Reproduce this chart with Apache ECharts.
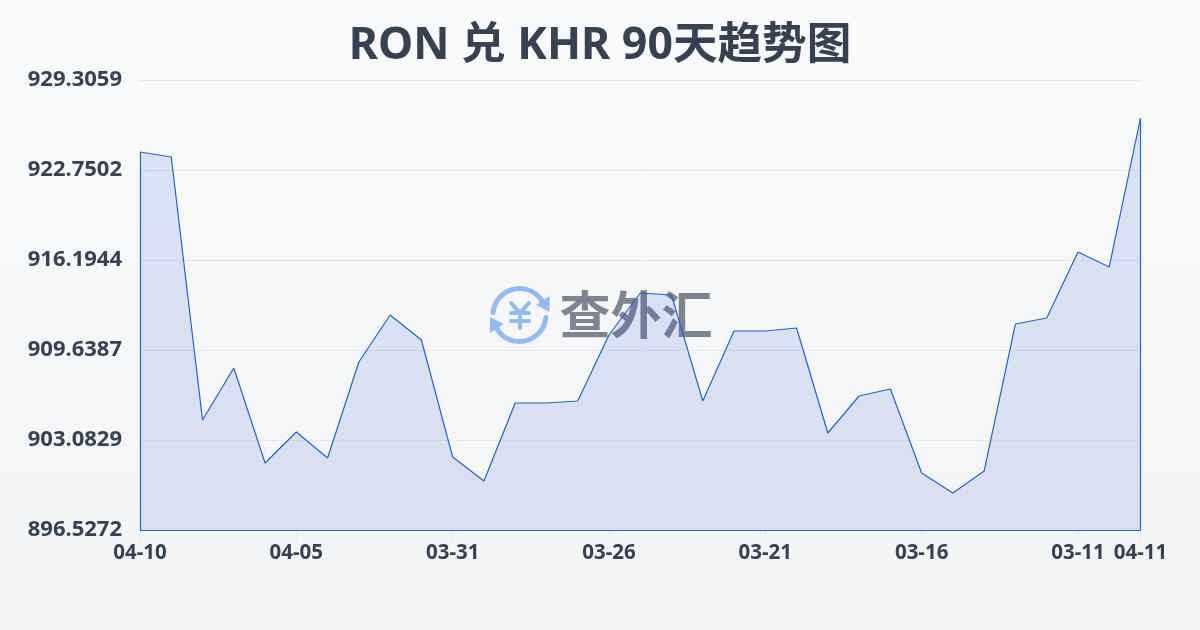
<!DOCTYPE html>
<html>
<head>
<meta charset="utf-8">
<title>RON 兑 KHR 90天趋势图</title>
<style>
    html, body { margin: 0; padding: 0; width: 1200px; height: 630px; overflow: hidden; }
    #chart { width: 1200px; height: 630px; }
</style>
<script src="https://cdn.jsdelivr.net/npm/echarts@6/dist/echarts.min.js"></script>
</head>
<body>
<div id="chart"></div>
<script>
var titleText = 'RON 兑 KHR 90天趋势图';
var watermarkText = '查外汇';

var categories = [
    '04-10', '04-09', '04-08', '04-07', '04-06', '04-05', '04-04', '04-03', '04-02', '04-01', '03-31',
    '03-30', '03-29', '03-28', '03-27', '03-26', '03-25', '03-24', '03-23', '03-22', '03-21',
    '03-20', '03-19', '03-18', '03-17', '03-16', '03-15', '03-14', '03-13', '03-12', '03-11',
    '03-10', '04-11'
];
var rates = [
    924.061, 923.697, 904.540, 908.328, 901.408, 903.666, 901.772, 908.765, 912.188, 910.367, 901.845,
    900.097, 905.778, 905.778, 905.924, 910.732, 913.791, 913.645, 905.924, 911.023, 911.023,
    911.241, 903.593, 906.288, 906.798, 900.679, 899.223, 900.825, 911.533, 911.970, 916.777,
    915.685, 926.538
];
var yMin = 896.5272;
var yMax = 929.3059;
var tickStep = 5;

var lineColor = '#2563c9';
var textColor = '#374151';
var gridColor = '#e5e7eb';
var logoColor = '#93b9f6';
var fontName = '"Noto Sans", "Noto Sans CJK SC", sans-serif';

function showTick(index) {
    return index % tickStep === 0 || index === categories.length - 1;
}

var last = categories.length - 1;

var chart = echarts.init(document.getElementById('chart'));

var option = {
    animation: false,
    backgroundColor: {
        type: 'linear', x: 0, y: 0, x2: 0, y2: 1,
        colorStops: [
            {offset: 0, color: '#f9fafc'},
            {offset: 1, color: '#f3f4f6'}
        ]
    },
    title: {
        text: titleText,
        left: 'center',
        top: 19,
        textStyle: {
            color: textColor,
            fontSize: 44.6,
            fontWeight: 'bold',
            fontFamily: fontName
        }
    },
    grid: {
        left: 140,
        right: 59.5,
        top: 80,
        bottom: 100
    },
    xAxis: {
        type: 'category',
        boundaryGap: false,
        data: categories,
        axisLine: {show: false},
        axisTick: {
            length: 10,
            interval: function (index) { return showTick(index); },
            lineStyle: {color: gridColor}
        },
        axisLabel: {
            interval: function (index) { return showTick(index); },
            color: textColor,
            fontSize: 20.5,
            fontWeight: 'bold',
            margin: 13,
            fontFamily: fontName
        }
    },
    yAxis: {
        type: 'value',
        min: yMin,
        max: yMax,
        interval: (yMax - yMin) / 5,
        axisLine: {show: false},
        axisTick: {show: false},
        splitLine: {lineStyle: {color: gridColor}},
        axisLabel: {
            color: textColor,
            fontSize: 22,
            fontWeight: 'bold',
            margin: 18,
            padding: [0, 0, 2, 0],
            fontFamily: fontName,
            formatter: function (value) { return value.toFixed(4); }
        }
    },
    graphic: [
        {
            type: 'group',
            silent: true,
            z: -1,
            children: [
                {type: 'arc', shape: {cx: 519.5, cy: 315, r: 26.5, startAngle: Math.PI * 1.03, endAngle: Math.PI * 1.86}, style: {stroke: logoColor, lineWidth: 5, fill: null, lineCap: 'round'}},
                {type: 'arc', shape: {cx: 519.5, cy: 315, r: 26.5, startAngle: Math.PI * 0.03, endAngle: Math.PI * 0.86}, style: {stroke: logoColor, lineWidth: 5, fill: null, lineCap: 'round'}},
                {type: 'polygon', shape: {points: [[549.5, 296], [549.5, 312], [536, 305]]}, style: {fill: logoColor}},
                {type: 'polygon', shape: {points: [[490, 317], [503.5, 324], [490, 333]]}, style: {fill: logoColor}},
                {type: 'polyline', shape: {points: [[511, 303], [520, 313], [529, 303]]}, style: {stroke: logoColor, lineWidth: 4, fill: null, lineCap: 'round'}},
                {type: 'line', shape: {x1: 511, y1: 313, x2: 529, y2: 313}, style: {stroke: logoColor, lineWidth: 4, lineCap: 'round'}},
                {type: 'line', shape: {x1: 511, y1: 321, x2: 529, y2: 321}, style: {stroke: logoColor, lineWidth: 4, lineCap: 'round'}},
                {type: 'line', shape: {x1: 520, y1: 313, x2: 520, y2: 328}, style: {stroke: logoColor, lineWidth: 4, lineCap: 'round'}},
                {
                    type: 'text',
                    x: 636,
                    y: 315,
                    style: {
                        text: watermarkText,
                        fill: '#7e8490',
                        font: 'bold 51px "Noto Sans CJK SC", sans-serif',
                        textAlign: 'center',
                        textVerticalAlign: 'middle'
                    }
                }
            ]
        }
    ],
    series: [
        {
            type: 'line',
            data: rates,
            symbol: 'none',
            smooth: false,
            lineStyle: {color: lineColor, width: 1.2},
            areaStyle: {
                origin: 'start',
                opacity: 1,
                color: {
                    type: 'linear', x: 0, y: 0, x2: 0, y2: 1,
                    colorStops: [
                        {offset: 0, color: 'rgba(37, 99, 235, 0.15)'},
                        {offset: 1, color: 'rgba(37, 80, 200, 0.13)'}
                    ]
                }
            },
            // the outline closes down both ends and along the floor
            markLine: {
                silent: true,
                symbol: 'none',
                label: {show: false},
                lineStyle: {color: lineColor, width: 1.2, type: 'solid'},
                data: [
                    [{xAxis: 0, yAxis: yMin}, {xAxis: 0, yAxis: rates[0]}],
                    [{xAxis: last, yAxis: yMin}, {xAxis: last, yAxis: rates[last]}],
                    [{xAxis: 0, yAxis: yMin}, {xAxis: last, yAxis: yMin}]
                ]
            }
        }
    ]
};

chart.setOption(option);
</script>
</body>
</html>
